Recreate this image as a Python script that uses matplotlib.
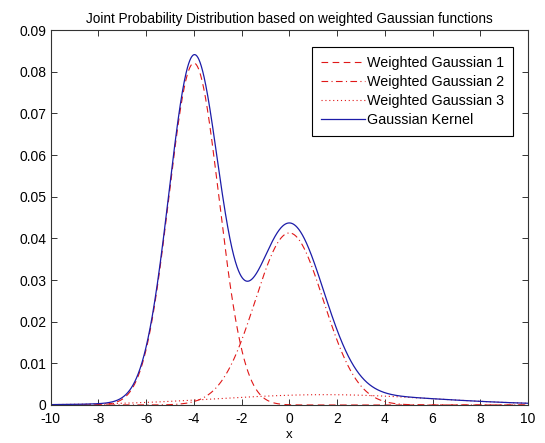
import numpy as np
import matplotlib
matplotlib.use('Agg')
import matplotlib.pyplot as plt

### DATA ###
labels = ["Weighted Gaussian 1", "Weighted Gaussian 2", "Weighted Gaussian 3"]
means = [-4.0, 0.0, 1.5]
sigmas = [1.05, 1.43, 4.5]
weights = [0.216, 0.148, 0.028]
x_min, x_max = -10, 10
x_ticks = list(range(-10, 11, 2))
y_ticks = [0, 0.01, 0.02, 0.03, 0.04, 0.05, 0.06, 0.07, 0.08, 0.09]
y_tick_labels = ["0", "0.01", "0.02", "0.03", "0.04", "0.05", "0.06", "0.07", "0.08", "0.09"]

### STYLE ###
plt.rcParams['font.family'] = ['Liberation Sans', 'DejaVu Sans']
plt.rcParams['font.size'] = 10
plt.rcParams['axes.unicode_minus'] = False

x = np.linspace(x_min, x_max, 2001)
curves = []
for w, m, s in zip(weights, means, sigmas):
    curves.append(w / (s * np.sqrt(2 * np.pi)) * np.exp(-(x - m) ** 2 / (2 * s ** 2)))
kernel = np.sum(curves, axis=0)

fig = plt.figure(figsize=(5.45, 4.43), dpi=100)
ax = fig.add_axes([50.7 / 545, 38 / 443, 477.3 / 545, 375 / 443])

red = '#e01818'
ax.plot(x, curves[0], color=red, linestyle=(0, (6, 4)), linewidth=0.8, label=labels[0])
ax.plot(x, curves[1], color=red, linestyle=(0, (6, 3, 1, 3)), linewidth=0.8, label=labels[1])
ax.plot(x, curves[2], color=red, linestyle=(0, (1, 2.5)), linewidth=0.8, label=labels[2])
ax.plot(x, kernel, color='#1c1ca8', linewidth=0.9, label='Gaussian Kernel')

ax.set_xlim(x_min, x_max)
ax.set_ylim(0, 0.09)
ax.set_xticks(x_ticks)
ax.set_yticks(y_ticks)
ax.set_yticklabels(y_tick_labels)
ax.tick_params(direction='in', top=True, right=True, length=4, width=0.7,
               colors='#333333', labelcolor='black', labelsize=10)
ax.tick_params(axis='x', pad=5)
ax.tick_params(axis='y', pad=3)
for sp in ax.spines.values():
    sp.set_color('#333333')
    sp.set_linewidth(0.8)

ax.set_xlabel('x', fontsize=9.5, labelpad=2.5)
ax.set_title('Joint Probability Distribution based on weighted Gaussian functions',
             fontsize=9.8, pad=5)

leg = ax.legend(loc='upper right', bbox_to_anchor=(0.9686, 0.9547), borderaxespad=0,
                fancybox=False, framealpha=1, edgecolor='black', handlelength=3.1,
                handletextpad=0.15, labelspacing=0.36, borderpad=0.6, fontsize=10.3)
leg.get_frame().set_linewidth(0.8)

plt.savefig('out.png', dpi=100)
